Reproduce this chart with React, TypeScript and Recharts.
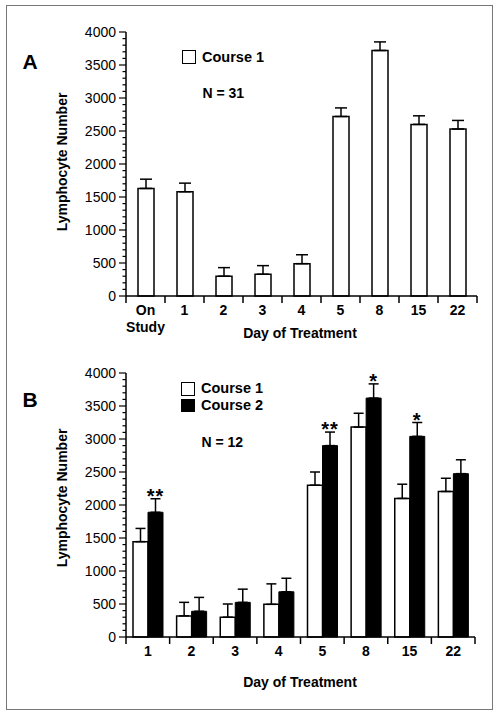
import React from 'react';
import { BarChart, Bar, XAxis, YAxis, ErrorBar, LabelList, Legend } from 'recharts';

const FONT = '"Liberation Sans", Arial, Helvetica, sans-serif';

// Panel A
const daysA = ['On\nStudy', '1', '2', '3', '4', '5', '8', '15', '22'];
const meanA = [1630, 1580, 300, 330, 490, 2720, 3720, 2600, 2530];
const errA = [140, 130, 130, 130, 135, 130, 130, 130, 130];

// Panel B
const daysB = ['1', '2', '3', '4', '5', '8', '15', '22'];
const course1B = [1445, 320, 300, 495, 2300, 3180, 2100, 2205];
const course1ErrB = [200, 205, 200, 310, 200, 210, 215, 200];
const course2B = [1890, 390, 525, 685, 2900, 3620, 3040, 2475];
const course2ErrB = [205, 210, 200, 205, 205, 215, 210, 210];
const starsB = ['**', '', '', '', '**', '*', '*', ''];

const majorTicks = [0, 500, 1000, 1500, 2000, 2500, 3000, 3500, 4000];
const yTicks = majorTicks.flatMap((m, i) =>
  i === majorTicks.length - 1 ? [m] : [m, m + 100, m + 200, m + 300, m + 400]
);

const dataA = daysA.map((d, i) => ({ day: d, mean: meanA[i], err: [0, errA[i]] }));
const dataB = daysB.map((d, i) => ({
  day: d,
  c1: course1B[i],
  c1err: [0, course1ErrB[i]],
  c2: course2B[i],
  c2err: [0, course2ErrB[i]],
  star: starsB[i],
}));

const YTick = (props: any) => {
  const { x, y, payload } = props;
  const v = payload.value;
  const major = v % 500 === 0;
  return (
    <g>
      <line x1={x} x2={x - (major ? 7 : 3.5)} y1={y} y2={y} stroke="#000" strokeWidth={1.2} />
      {major && (
        <text x={x - 10} y={y} dy={5} textAnchor="end" fontSize={14} fontFamily={FONT} fill="#000">
          {v}
        </text>
      )}
    </g>
  );
};

const makeXTick = (count: number) => (props: any) => {
  const { x, y, payload, index } = props;
  const off = payload && payload.offset ? payload.offset : 20;
  const lines = String(payload.value).split('\n');
  return (
    <g>
      <line x1={x - off} x2={x - off} y1={y} y2={y + 7} stroke="#000" strokeWidth={1.5} />
      {index === count - 1 && (
        <line x1={x + off} x2={x + off} y1={y} y2={y + 7} stroke="#000" strokeWidth={1.5} />
      )}
      <text x={x} y={y + 19} textAnchor="middle" fontSize={14} fontWeight="bold" fontFamily={FONT} fill="#000">
        {lines.map((l, i) => (
          <tspan key={i} x={x} dy={i === 0 ? 0 : 17}>
            {l}
          </tspan>
        ))}
      </text>
    </g>
  );
};

const StarLabel = (props: any) => {
  const { x, y, width, height, value, index } = props;
  const star = starsB[index];
  if (!star) return null;
  const errPx = (course2ErrB[index] * height) / value;
  return (
    <text
      x={x + width / 2}
      y={y - errPx + 4}
      textAnchor="middle"
      fontSize={20}
      fontWeight="bold"
      fontFamily={FONT}
      letterSpacing={1}
      fill="#000"
    >
      {star}
    </text>
  );
};

const legendText: React.CSSProperties = {
  fontFamily: FONT,
  fontWeight: 'bold',
  fontSize: 14.5,
  lineHeight: '17px',
  color: '#000',
};

const LegendA = () => (
  <div style={{ display: 'flex', alignItems: 'center' }}>
    <span style={{ display: 'inline-block', width: 12, height: 12, border: '1.2px solid #000', background: '#fff' }} />
    <span style={{ ...legendText, marginLeft: 6 }}>Course 1</span>
  </div>
);

const LegendB = () => (
  <div>
    <div style={{ display: 'flex', alignItems: 'center' }}>
      <span style={{ display: 'inline-block', width: 12, height: 12, border: '1.2px solid #000', background: '#fff' }} />
      <span style={{ ...legendText, marginLeft: 6 }}>Course 1</span>
    </div>
    <div style={{ display: 'flex', alignItems: 'center' }}>
      <span style={{ display: 'inline-block', width: 14, height: 13, background: '#000' }} />
      <span style={{ ...legendText, marginLeft: 6 }}>Course 2</span>
    </div>
  </div>
);

const abs = (left: number, top: number, extra: React.CSSProperties = {}): React.CSSProperties => ({
  position: 'absolute',
  left,
  top,
  fontFamily: FONT,
  fontWeight: 'bold',
  fontSize: 14,
  lineHeight: '16px',
  color: '#000',
  whiteSpace: 'nowrap',
  ...extra,
});

const yLabelStyle = (cy: number): React.CSSProperties =>
  abs(62, cy, { transform: 'translate(-50%, -50%) rotate(-90deg)' });

export default function App() {
  return (
    <div style={{ position: 'absolute', left: 0, top: 0, width: 498, height: 717, background: '#fff' }}>
      <div
        style={{
          position: 'absolute',
          left: 6,
          top: 5,
          width: 487,
          height: 705,
          border: '1px solid #777',
          boxSizing: 'border-box',
        }}
      />

      {/* Panel A */}
      <div style={{ position: 'absolute', left: 0, top: 0 }}>
        <BarChart
          width={498}
          height={340}
          data={dataA}
          margin={{ top: 32, right: 21, left: 66, bottom: 4 }}
          barSize={16}
        >
          <XAxis
            dataKey="day"
            interval={0}
            tickSize={0}
            tickMargin={0}
            tickLine={false}
            axisLine={{ stroke: '#000', strokeWidth: 1.5 }}
            tick={makeXTick(daysA.length)}
            height={40}
          />
          <YAxis
            domain={[0, 4000]}
            ticks={yTicks}
            interval={0}
            tickSize={0}
            tickMargin={0}
            tickLine={false}
            axisLine={{ stroke: '#000', strokeWidth: 1.5 }}
            tick={<YTick />}
            width={60}
          />
          <Legend
            layout="horizontal"
            verticalAlign="middle"
            align="center"
            content={() => <LegendA />}
            wrapperStyle={{ left: 182, top: 48.5, width: 'auto' }}
          />
          <Bar dataKey="mean" name="Course 1" fill="#fff" stroke="#000" strokeWidth={1.5} isAnimationActive={false}>
            <ErrorBar dataKey="err" width={6} stroke="#000" strokeWidth={1.5} direction="y" />
          </Bar>
        </BarChart>
      </div>
      <div style={abs(22.5, 50.5, { fontSize: 21, lineHeight: '21px' })}>A</div>
      <div style={abs(202.5, 84.5)}>N = 31</div>
      <div style={yLabelStyle(162)}>Lymphocyte Number</div>
      <div style={abs(300, 325, { transform: 'translateX(-50%)' })}>Day of Treatment</div>

      {/* Panel B */}
      <div style={{ position: 'absolute', left: 0, top: 341 }}>
        <BarChart
          width={498}
          height={340}
          data={dataB}
          margin={{ top: 32, right: 23, left: 66, bottom: 4 }}
          barSize={15}
          barGap={0}
        >
          <XAxis
            dataKey="day"
            interval={0}
            tickSize={0}
            tickMargin={0}
            tickLine={false}
            axisLine={{ stroke: '#000', strokeWidth: 1.5 }}
            tick={makeXTick(daysB.length)}
            height={40}
          />
          <YAxis
            domain={[0, 4000]}
            ticks={yTicks}
            interval={0}
            tickSize={0}
            tickMargin={0}
            tickLine={false}
            axisLine={{ stroke: '#000', strokeWidth: 1.5 }}
            tick={<YTick />}
            width={60}
          />
          <Legend
            layout="horizontal"
            verticalAlign="middle"
            align="center"
            content={() => <LegendB />}
            wrapperStyle={{ left: 181, top: 39, width: 'auto' }}
          />
          <Bar dataKey="c1" name="Course 1" fill="#fff" stroke="#000" strokeWidth={1.5} isAnimationActive={false}>
            <ErrorBar dataKey="c1err" width={5} stroke="#000" strokeWidth={1.5} direction="y" />
          </Bar>
          <Bar dataKey="c2" name="Course 2" fill="#000" stroke="#000" strokeWidth={1} isAnimationActive={false}>
            <ErrorBar dataKey="c2err" width={5} stroke="#000" strokeWidth={1.5} direction="y" />
            <LabelList dataKey="c2" content={<StarLabel />} />
          </Bar>
        </BarChart>
      </div>
      <div style={abs(22.5, 388.5, { fontSize: 21, lineHeight: '21px' })}>B</div>
      <div style={abs(201.5, 434)}>N = 12</div>
      <div style={yLabelStyle(498)}>Lymphocyte Number</div>
      <div style={abs(300, 674, { transform: 'translateX(-50%)' })}>Day of Treatment</div>
    </div>
  );
}
